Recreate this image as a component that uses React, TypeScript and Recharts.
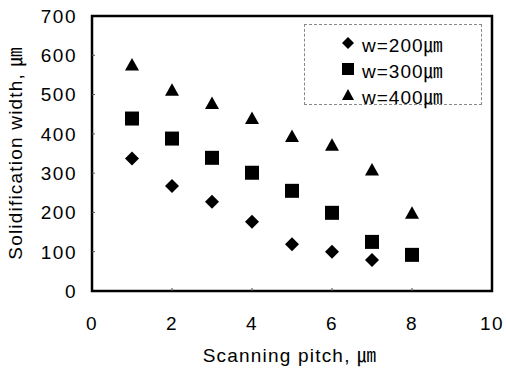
import React from "react";
import {
  ScatterChart,
  Scatter,
  XAxis,
  YAxis,
  ReferenceArea,
  Legend,
} from "recharts";

const pitches = [1, 2, 3, 4, 5, 6, 7, 8];
const w200 = [337, 267, 227, 176, 119, 100, 79];
const w300 = [439, 388, 339, 301, 255, 199, 125, 92];
const w400 = [575, 511, 477, 439, 393, 371, 308, 198];
const xTicks = [0, 2, 4, 6, 8, 10];
const yTicks = [0, 100, 200, 300, 400, 500, 600, 700];
const seriesNames = ["w=200㎛", "w=300㎛", "w=400㎛"];

const toPts = (vals: number[]) => vals.map((v, i) => ({ x: pitches[i], y: v }));
const d200 = toPts(w200);
const d300 = toPts(w300);
const d400 = toPts(w400);

const FONT = "'Liberation Sans', Arial, 'Noto Sans CJK KR', sans-serif";

const Diamond = (p: any) => {
  const { cx, cy } = p;
  const r = 7;
  return <path d={`M${cx},${cy - r}L${cx + r},${cy}L${cx},${cy + r}L${cx - r},${cy}Z`} fill="#000" />;
};
const Square = (p: any) => {
  const { cx, cy } = p;
  return <rect x={cx - 7} y={cy - 7} width={14} height={14} fill="#000" />;
};
const Triangle = (p: any) => {
  const { cx, cy } = p;
  return <path d={`M${cx},${cy - 7}L${cx + 7},${cy + 5.5}L${cx - 7},${cy + 5.5}Z`} fill="#000" />;
};

const XTick = (p: any) => {
  const { x, y, payload } = p;
  const v = payload.value;
  return (
    <g>
      {v !== 0 && v !== 10 && <line x1={x} x2={x} y1={y} y2={y - 3} stroke="#555" strokeWidth={1} />}
      <text x={x} y={y + 32} dy="0.36em" textAnchor="middle" fontSize={19} letterSpacing={1.5} fontFamily={FONT} fill="#000">
        {v}
      </text>
    </g>
  );
};

const YTick = (p: any) => {
  const { x, y, payload } = p;
  const v = payload.value;
  return (
    <g>
      {v !== 0 && v !== 700 && <line x1={x + 15} x2={x + 18} y1={y} y2={y} stroke="#555" strokeWidth={1} />}
      <text x={x} y={y} dy="0.36em" textAnchor="end" fontSize={19} letterSpacing={1.5} fontFamily={FONT} fill="#000">
        {v}
      </text>
    </g>
  );
};

const legendShapes = [
  <path key="d" d="M6,0L12,6L6,12L0,6Z" fill="#000" />,
  <rect key="s" x={0} y={0} width={12} height={12} fill="#000" />,
  <path key="t" d="M6,0L12,11L0,11Z" fill="#000" />,
];

const LegendBox = () => (
  <div
    style={{
      position: "absolute",
      left: 304,
      top: 24,
      width: 178,
      height: 81,
      border: "1px dashed #888",
      boxSizing: "border-box",
      fontFamily: FONT,
    }}
  >
    {seriesNames.map((n, i) => (
      <div
        key={n}
        style={{
          position: "absolute",
          left: 37,
          top: 7 + i * 26,
          height: 22,
          display: "flex",
          alignItems: "center",
          whiteSpace: "nowrap",
        }}
      >
        <svg width={12} height={12} style={{ marginRight: 8 }}>
          {legendShapes[i]}
        </svg>
        <span style={{ fontSize: 19, letterSpacing: 1, color: "#000" }}>{n}</span>
      </div>
    ))}
  </div>
);

export default function App() {
  return (
    <div style={{ position: "absolute", left: 0, top: 0, width: 506, height: 370, background: "#fff" }}>
      <ScatterChart width={506} height={370} margin={{ top: 16, right: 14, bottom: 0, left: 0 }}>
        <XAxis
          type="number"
          dataKey="x"
          domain={[0, 10]}
          ticks={xTicks}
          axisLine={false}
          tickLine={false}
          tickSize={0}
          tickMargin={0}
          height={79}
          tick={<XTick />}
          interval={0}
          label={{
            content: () => (
              <text x={290} y={355} dy="0.36em" textAnchor="middle" fontSize={19} letterSpacing={1.2} fontFamily={FONT} fill="#000">
                Scanning pitch, ㎛
              </text>
            ),
          }}
        />
        <YAxis
          type="number"
          dataKey="y"
          domain={[0, 700]}
          ticks={yTicks}
          axisLine={false}
          tickLine={false}
          tickSize={0}
          tickMargin={15}
          width={92}
          tick={<YTick />}
          interval={0}
          label={{
            content: () => (
              <text
                x={15}
                y={153}
                dy="0.36em"
                textAnchor="middle"
                fontSize={19}
                letterSpacing={1.2}
                fontFamily={FONT}
                fill="#000"
                transform="rotate(-90 15 153)"
              >
                Solidification width, ㎛
              </text>
            ),
          }}
        />
        <ReferenceArea x1={0} x2={10} y1={0} y2={700} fill="none" stroke="#000" strokeWidth={2.5} ifOverflow="visible" />
        <Legend content={() => <LegendBox />} wrapperStyle={{ position: "absolute", left: 0, top: 0, width: 0, height: 0 }} />
        <Scatter name={seriesNames[0]} data={d200} shape={<Diamond />} isAnimationActive={false} />
        <Scatter name={seriesNames[1]} data={d300} shape={<Square />} isAnimationActive={false} />
        <Scatter name={seriesNames[2]} data={d400} shape={<Triangle />} isAnimationActive={false} />
      </ScatterChart>
    </div>
  );
}
